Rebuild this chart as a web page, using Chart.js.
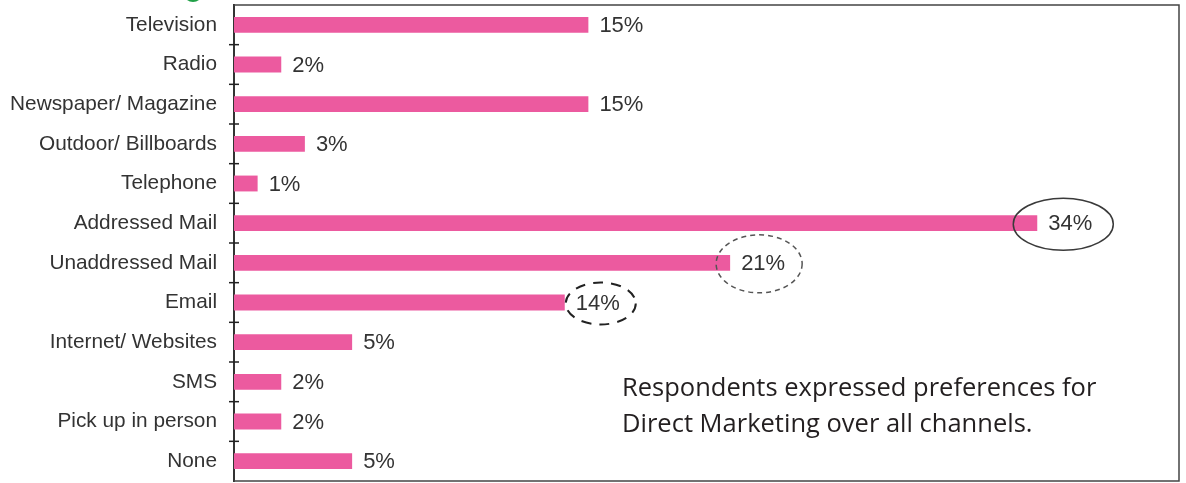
<!DOCTYPE html>
<html>
<head>
<meta charset="utf-8">
<title>Channel preferences</title>
<script src="https://cdn.jsdelivr.net/npm/chart.js@4/dist/chart.umd.min.js"></script>
<style>
    html, body { margin: 0; padding: 0; background: #fff; }
    #wrap { width: 1186px; height: 483px; position: relative; }
</style>
</head>
<body>
<div id="wrap"><canvas id="chart" width="1186" height="483"></canvas></div>
<script>
const categories = [
    "Television", "Radio", "Newspaper/ Magazine", "Outdoor/ Billboards",
    "Telephone", "Addressed Mail", "Unaddressed Mail", "Email",
    "Internet/ Websites", "SMS", "Pick up in person", "None"
];
const shares = [15, 2, 15, 3, 1, 34, 21, 14, 5, 2, 2, 5];
const circled = ["Addressed Mail", "Unaddressed Mail", "Email"];
const noteLines = [
    "Respondents expressed preferences for",
    "Direct Marketing over all channels."
];

const ellipseStyles = {
    "Addressed Mail": { dx: -7, padX: 28, ry: 26, dash: [], width: 1.5, color: "#3a3a3a" },
    "Unaddressed Mail": { dx: -4, padX: 21, ry: 29, dash: [5, 4], width: 1.5, color: "#555" },
    "Email": { dx: 3, padX: 13, ry: 21, dash: [10, 8], width: 2, color: "#222" },
};

const LABEL_GAP = 11;
const VALUE_FONT = "22px 'Liberation Sans', Arial, sans-serif";

const decorations = {
    id: "decorations",
    afterDatasetsDraw(chart) {
        const { ctx, chartArea } = chart;
        const meta = chart.getDatasetMeta(0);

        ctx.save();
        // value labels + circled highlights
        ctx.font = VALUE_FONT;
        ctx.fillStyle = "#333";
        ctx.textBaseline = "middle";
        ctx.textAlign = "left";
        meta.data.forEach((bar, i) => {
            const text = shares[i] + "%";
            const tx = bar.x + LABEL_GAP;
            ctx.fillText(text, tx, bar.y + 1);

            const name = categories[i];
            if (circled.includes(name)) {
                const st = ellipseStyles[name];
                const w = ctx.measureText(text).width;
                ctx.save();
                ctx.beginPath();
                ctx.setLineDash(st.dash);
                ctx.lineWidth = st.width;
                ctx.strokeStyle = st.color;
                ctx.ellipse(tx + w / 2 + st.dx, bar.y + 1, w / 2 + st.padX, st.ry, 0, 0, Math.PI * 2);
                ctx.stroke();
                ctx.restore();
            }
        });

        // frame round the plot area
        ctx.strokeStyle = "#444";
        ctx.lineWidth = 1.5;
        ctx.beginPath();
        ctx.moveTo(chartArea.left, chartArea.top);
        ctx.lineTo(chartArea.right, chartArea.top);
        ctx.lineTo(chartArea.right, chartArea.bottom);
        ctx.lineTo(chartArea.left, chartArea.bottom);
        ctx.stroke();

        // tick marks between categories
        const y = chart.scales.y;
        ctx.strokeStyle = "#222";
        ctx.lineWidth = 1.5;
        for (let i = 1; i < categories.length; i++) {
            const py = (y.getPixelForValue(i - 1) + y.getPixelForValue(i)) / 2;
            ctx.beginPath();
            ctx.moveTo(chartArea.left - 5, py);
            ctx.lineTo(chartArea.left + 5, py);
            ctx.stroke();
        }

        // note text
        ctx.font = "25.5px 'Open Sans', 'Noto Sans', sans-serif";
        ctx.fillStyle = "#231f20";
        ctx.textBaseline = "alphabetic";
        ctx.fillText(noteLines[0], 622, 396);
        ctx.fillText(noteLines[1], 622, 432);

        // green logo fragment at top edge
        ctx.fillStyle = "#21a047";
        ctx.beginPath();
        ctx.arc(193, -8, 10, 0, Math.PI * 2);
        ctx.fill();
        ctx.restore();
    }
};

const canvas = document.getElementById("chart");
const ctx = canvas.getContext("2d");

new Chart(ctx, {
    type: "bar",
    data: {
        labels: categories,
        datasets: [{
            data: shares,
            backgroundColor: (context) => {
                const bar = context.element;
                if (!bar || bar.height === undefined) return "#ec5a9f";
                const g = context.chart.ctx.createLinearGradient(0, bar.y - bar.height / 2, 0, bar.y + bar.height / 2);
                g.addColorStop(0, "#e64d95");
                g.addColorStop(0.55, "#f06fab");
                g.addColorStop(1, "#e8519a");
                return g;
            },
            borderWidth: 0,
            barPercentage: 0.4,
            categoryPercentage: 1,
        }]
    },
    options: {
        indexAxis: "y",
        responsive: false,
        animation: false,
        layout: {
            padding: { top: 5, right: 7, bottom: 2, left: 0 }
        },
        plugins: {
            legend: { display: false },
            tooltip: { enabled: false },
        },
        scales: {
            x: {
                display: false,
                min: 0,
                max: 40,
            },
            y: {
                afterFit: (axis) => {
                    axis.width = 234;
                    axis.paddingTop = 0;
                    axis.paddingBottom = 0;
                },
                grid: { display: false, drawTicks: false },
                border: { display: true, color: "#333", width: 2 },
                ticks: {
                    color: "#333",
                    padding: 17,
                    font: { family: "'Liberation Sans', Arial, sans-serif", size: 20.8 },
                },
            }
        }
    },
    plugins: [decorations],
});
</script>
</body>
</html>
